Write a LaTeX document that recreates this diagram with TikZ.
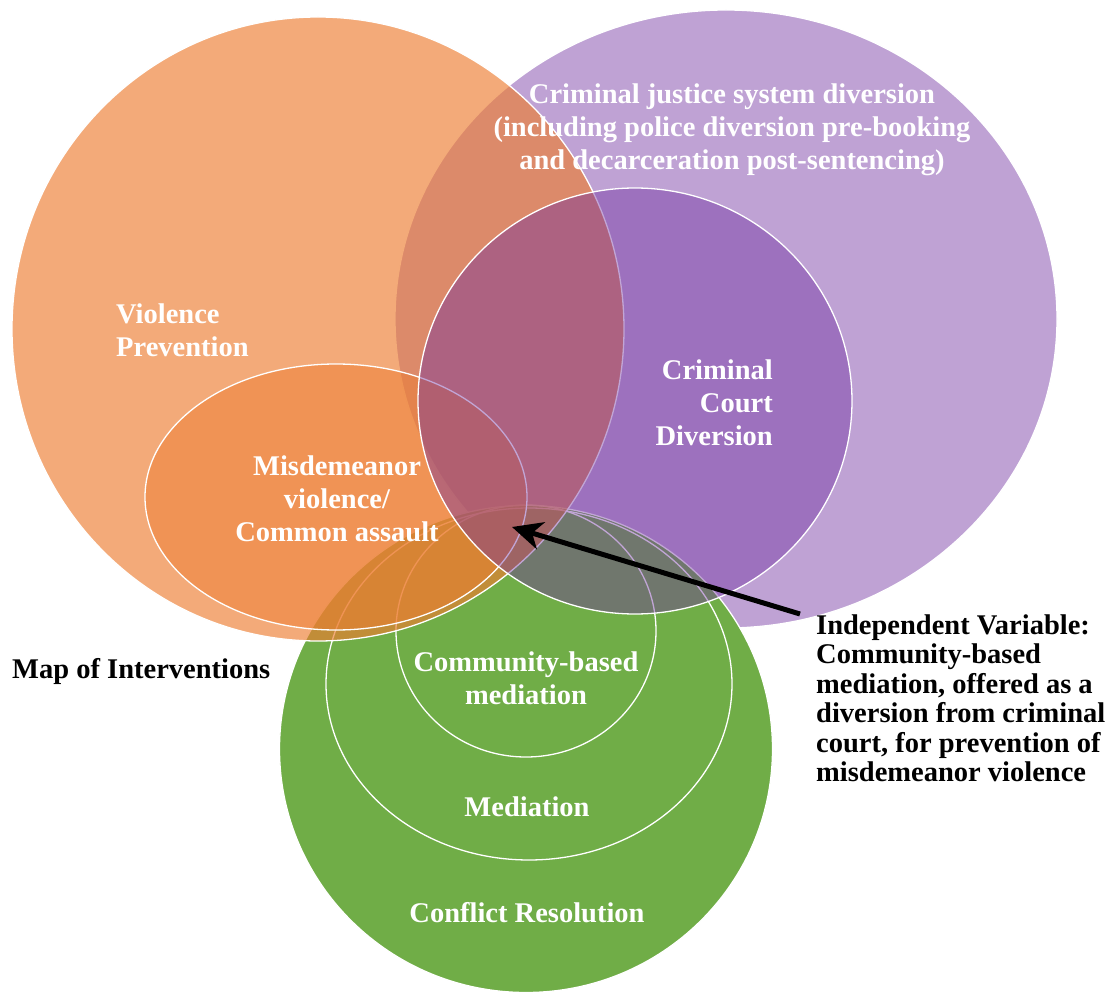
\documentclass[tikz,border=0pt]{standalone}
\usepackage{fontspec}
\setmainfont{Liberation Serif}
\usetikzlibrary{shapes.geometric,arrows.meta}
\definecolor{oOrange}{HTML}{ED7D31}
\definecolor{oPurple}{HTML}{7030A0}
\definecolor{oGreen}{HTML}{70AD47}
\begin{document}
\begin{tikzpicture}[x=1pt,y=-1pt,
  blob/.style={ellipse, draw=white, line width=1.3pt, inner sep=0pt, outer sep=0pt},
  wlabel/.style={text=white, font=\bfseries\fontsize{28.5}{33}\selectfont, inner sep=0pt},
  blabel/.style={text=black, font=\bfseries\fontsize{28.5}{29.5}\selectfont, inner sep=0pt, align=left}]
\useasboundingbox (0,0) rectangle (1112,992);
% layers
\node[blob, fill=oPurple, fill opacity=.45, minimum width=662pt, minimum height=618pt] (cjs) at (726,319) {};
\node[blob, fill=oGreen, minimum width=493pt, minimum height=487pt] (conf) at (526,749) {};
\node[blob, minimum width=406pt, minimum height=352pt] (med) at (529,684) {};
\node[blob, minimum width=260pt, minimum height=252pt] (comm) at (526,631) {};
\node[blob, fill=oOrange, fill opacity=.65, minimum width=612pt, minimum height=624pt] (viol) at (318,329) {};
\node[blob, fill=oOrange, fill opacity=.5, minimum width=382pt, minimum height=266pt] (misd) at (336,497) {};
\node[blob, fill=oPurple, fill opacity=.43, minimum width=434pt, minimum height=426pt] (court) at (635,401) {};
% labels
\node[wlabel, align=center] (cjst) at (732,130) {Criminal justice system diversion\\(including police diversion pre-booking\\and decarceration post-sentencing)};
\node[wlabel, align=left, anchor=west] (violt) at (116,330) {Violence\\Prevention};
\node[wlabel, align=center] (misdt) at (337,499) {Misdemeanor\\violence/\\Common assault};
\node[wlabel, align=right, anchor=east] (courtt) at (773,403) {Criminal\\Court\\Diversion};
\node[wlabel, align=center] (commt) at (526,678) {Community-based\\mediation};
\node[wlabel] (medt) at (527,807) {Mediation};
\node[wlabel] (conft) at (527,913) {Conflict Resolution};
\node[blabel, anchor=west] (mapt) at (12,671) {Map of Interventions};
\node[blabel, anchor=west] (ivt) at (816,698) {Independent Variable:\\Community-based\\mediation, offered as a\\diversion from criminal\\court, for prevention of\\misdemeanor violence};
% arrow
\coordinate (ivtail) at (800,614);
\coordinate (ivtip) at (512,527);
\draw[line width=5pt, -{Stealth[length=30pt,width=28pt,inset=9pt]}] (ivtail) -- (ivtip);
\end{tikzpicture}
\end{document}
